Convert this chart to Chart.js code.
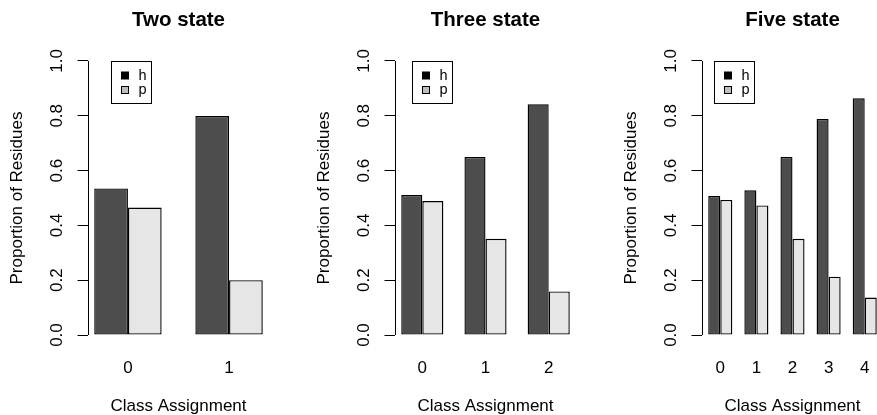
<!DOCTYPE html>
<html>
<head>
<meta charset="utf-8">
<script src="https://cdn.jsdelivr.net/npm/chart.js@4.4.1/dist/chart.umd.min.js"></script>
<style>
  html, body { margin: 0; padding: 0; background: #fff; overflow: hidden; }
  #wrap { position: relative; width: 877px; height: 415px; overflow: hidden; }
  #wrap canvas { position: absolute; top: 0; }
</style>
</head>
<body>
<div id="wrap">
  <canvas id="twoChart" width="307" height="415" style="left:0px"></canvas>
  <canvas id="threeChart" width="307" height="415" style="left:307px"></canvas>
  <canvas id="fiveChart" width="307" height="415" style="left:614px"></canvas>
</div>
<script>
// data
let seriesNames = ['h', 'p'];
let yTicks = [0, 0.2, 0.4, 0.6, 0.8, 1.0];

let twoCats = ['0', '1'];
let twoH = [0.535, 0.799];
let twoP = [0.465, 0.200];

let threeCats = ['0', '1', '2'];
let threeH = [0.511, 0.650, 0.842];
let threeP = [0.489, 0.351, 0.159];

let fiveCats = ['0', '1', '2', '3', '4'];
let fiveH = [0.507, 0.528, 0.650, 0.788, 0.864];
let fiveP = [0.493, 0.473, 0.351, 0.213, 0.137];

let fontFamily = "'Liberation Sans', Arial, sans-serif";
Chart.defaults.font.family = fontFamily;
Chart.defaults.color = '#000';

// y axis line only spans 0..1 like R's axis()
let axisLine = {
    id: 'axisLine',
    afterDraw(chart){
        let ctx = chart.ctx;
        let y = chart.scales.y;
        let x = Math.round(chart.chartArea.left) + 0.5;
        ctx.save();
        ctx.strokeStyle = '#000';
        ctx.lineWidth = 1;
        ctx.beginPath();
        ctx.moveTo(x, y.getPixelForValue(0));
        ctx.lineTo(x, y.getPixelForValue(1));
        ctx.stroke();
        ctx.restore();
    }
};

// main title centred over the plot region
let plotTitle = {
    id: 'plotTitle',
    afterDraw(chart, args, opts){
        let ctx = chart.ctx;
        let area = chart.chartArea;
        ctx.save();
        ctx.fillStyle = '#000';
        ctx.font = 'bold 20.5px ' + fontFamily;
        ctx.textAlign = 'center';
        ctx.textBaseline = 'middle';
        ctx.fillText(opts.text, (area.left + area.right) / 2, 20);
        ctx.restore();
    }
};

// boxed legend in the top left, anchored on the first bar
let boxLegend = {
    id: 'boxLegend',
    afterDraw(chart){
        let ctx = chart.ctx;
        let firstBar = chart.getDatasetMeta(0).data[0];
        let left = Math.round(firstBar.x) + 0.5;
        let top = Math.round(chart.scales.y.getPixelForValue(1)) + 0.5;
        ctx.save();
        ctx.lineWidth = 1;
        ctx.strokeStyle = '#000';
        ctx.strokeRect(left, top, 40, 42);
        ctx.fillStyle = '#000';
        ctx.fillRect(left + 9.5, top + 10, 8, 8);
        ctx.fillStyle = '#bebebe';
        ctx.fillRect(left + 9.5, top + 24.5, 8, 7.5);
        ctx.strokeRect(left + 10, top + 25, 7, 7);
        ctx.fillStyle = '#000';
        ctx.font = '14.5px ' + fontFamily;
        ctx.textBaseline = 'middle';
        ctx.textAlign = 'left';
        ctx.fillText(seriesNames[0], left + 27, top + 14);
        ctx.fillText(seriesNames[1], left + 27, top + 28);
        ctx.restore();
    }
};

function makeChart(id, title, cats, hVals, pVals){
    let n = cats.length;
    let span = n - 1 + 2 / 3;
    let xMin = -1 / 3 - 0.04 * span;
    let xMax = n - 1 + 1 / 3 + 0.04 * span;
    let ctx = document.getElementById(id).getContext('2d');
    return new Chart(ctx, {
        type: 'bar',
        data: {
            datasets: [
                {
                    label: seriesNames[0],
                    data: hVals.map((v, i) => ({x: i, y: v})),
                    backgroundColor: '#4d4d4d',
                    borderColor: '#000',
                    borderWidth: 1.4,
                    borderSkipped: false
                },
                {
                    label: seriesNames[1],
                    data: pVals.map((v, i) => ({x: i, y: v})),
                    backgroundColor: '#e6e6e6',
                    borderColor: '#000',
                    borderWidth: 1.4,
                    borderSkipped: false
                }
            ]
        },
        options: {
            responsive: false,
            animation: false,
            devicePixelRatio: 1,
            categoryPercentage: 2 / 3,
            barPercentage: 1,
            layout: { padding: { left: 0, right: 37.5, top: 50, bottom: 0 } },
            plugins: {
                legend: { display: false },
                tooltip: { enabled: false },
                title: { display: false },
                plotTitle: { text: title }
            },
            scales: {
                x: {
                    type: 'linear',
                    min: xMin,
                    max: xMax,
                    offset: false,
                    grid: { display: false, drawTicks: false, offset: false },
                    border: { display: false },
                    afterBuildTicks: (s) => { s.ticks = cats.map((c, i) => ({value: i})); },
                    afterFit: (s) => { s.height = 69; },
                    ticks: {
                        autoSkip: false,
                        maxRotation: 0,
                        padding: 12,
                        font: { size: 17 },
                        callback: (v) => cats[v]
                    },
                    title: {
                        display: true,
                        text: 'Class Assignment',
                        font: { size: 17, lineHeight: 1 },
                        padding: { top: 0, bottom: 0 }
                    }
                },
                y: {
                    min: -0.04,
                    max: 1.04,
                    grid: { drawOnChartArea: false, drawTicks: true, tickLength: 10, color: '#000', lineWidth: 1 },
                    border: { display: false },
                    afterBuildTicks: (s) => { s.ticks = yTicks.map((v) => ({value: v})); },
                    afterFit: (s) => { s.width = 87.5; },
                    ticks: {
                        minRotation: 90,
                        maxRotation: 90,
                        crossAlign: 'center',
                        padding: 8.7,
                        font: { size: 17 },
                        callback: (v) => v.toFixed(1)
                    },
                    title: {
                        display: true,
                        text: 'Proportion of Residues',
                        font: { size: 17, lineHeight: 1 },
                        padding: { top: 8.5, bottom: 0 }
                    }
                }
            }
        },
        plugins: [axisLine, plotTitle, boxLegend]
    });
}

makeChart('twoChart', 'Two state', twoCats, twoH, twoP);
makeChart('threeChart', 'Three state', threeCats, threeH, threeP);
makeChart('fiveChart', 'Five state', fiveCats, fiveH, fiveP);
</script>
</body>
</html>
